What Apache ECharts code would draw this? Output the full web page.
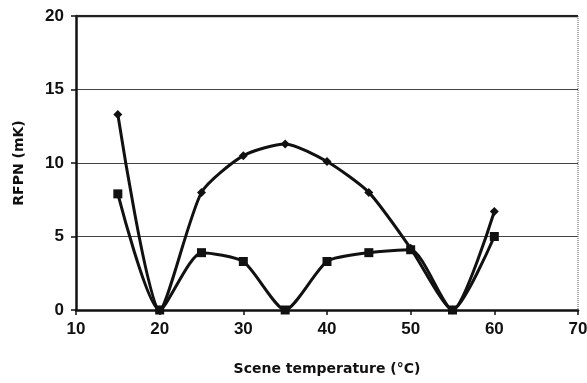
<!DOCTYPE html>
<html><head><meta charset="utf-8">
<script src="https://cdn.jsdelivr.net/npm/echarts@6/dist/echarts.min.js"></script>
<style>html,body{margin:0;padding:0;background:#fff}#c{width:587px;height:383px}</style>
</head><body><div id="c"></div>
<script>
const temps = [15, 20, 25, 30, 35, 40, 45, 50, 55, 60];
const diamondVals = [13.3, 0, 8.0, 10.5, 11.3, 10.1, 8.0, 4.2, 0, 6.7];
const squareVals = [7.9, 0, 3.9, 3.3, 0, 3.3, 3.9, 4.1, 0, 5.0];
const xTitle = 'Scene temperature (°C)';
const yTitle = 'RFPN (mK)';

const font = 'Liberation Sans, Arial, sans-serif';
const tfont = 'DejaVu Sans, sans-serif';
const chart = echarts.init(document.getElementById('c'));
function pairs(v){ return temps.map((t,i)=>[t, v[i]]); }
chart.setOption({
  animation:false,
  grid:{left:76,right:9,top:16,bottom:73,outerBoundsMode:'none',containLabel:false},
  xAxis:{type:'value',min:10,max:70,interval:10,
    name:xTitle,nameLocation:'middle',nameGap:52,
    nameTextStyle:{fontFamily:tfont,fontWeight:'bold',fontSize:14,color:'#111'},
    axisLine:{show:true,onZero:false,lineStyle:{color:'#111',width:2.5}},
    axisTick:{show:true,length:5,lineStyle:{color:'#111',width:1.5}},
    axisLabel:{fontFamily:font,fontWeight:'bold',fontSize:17,color:'#111',margin:11},
    splitLine:{show:false}},
  yAxis:{type:'value',min:0,max:20,interval:5,
    name:yTitle,nameLocation:'middle',nameGap:50,nameRotate:90,
    nameTextStyle:{fontFamily:tfont,fontWeight:'bold',fontSize:14,color:'#111'},
    axisLine:{show:true,lineStyle:{color:'#111',width:2.5}},
    axisTick:{show:true,length:5,lineStyle:{color:'#111',width:1.5}},
    axisLabel:{fontFamily:font,fontWeight:'bold',fontSize:17,color:'#111',margin:12},
    splitLine:{show:true,lineStyle:{color:'#444',width:1}}},
  series:[
    {type:'line',data:pairs(diamondVals),smooth:0.22,symbol:'diamond',symbolSize:9,
      lineStyle:{color:'#111',width:3},itemStyle:{color:'#111'},z:3},
    {type:'line',data:pairs(squareVals),smooth:0.22,symbol:'rect',symbolSize:9,
      lineStyle:{color:'#111',width:3},itemStyle:{color:'#111'},z:3},
    {type:'line',data:[[10,20],[70,20]],symbol:'none',silent:true,
      lineStyle:{color:'#222',width:2.5},z:1},
    {type:'line',data:[[70,20],[70,0]],symbol:'none',silent:true,
      lineStyle:{color:'#555',width:1,type:'dotted'},z:1}
  ]
});
</script></body></html>
